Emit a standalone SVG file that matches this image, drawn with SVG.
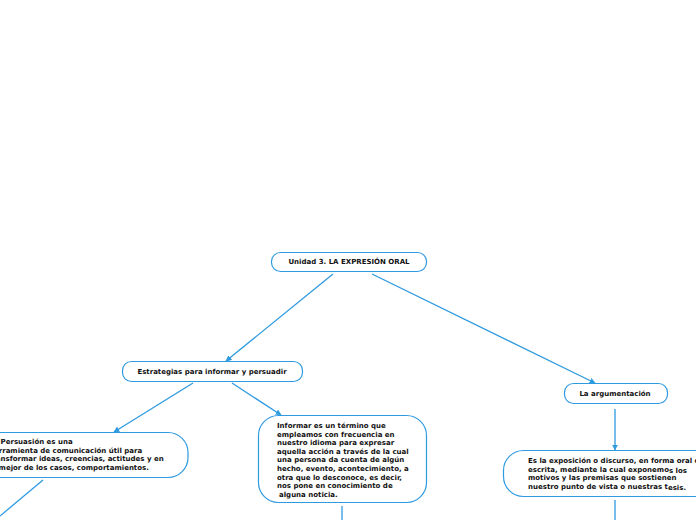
<svg xmlns="http://www.w3.org/2000/svg" width="696" height="520" viewBox="0 0 696 520">
<style>
.n{fill:#fff;stroke:#2e9ae0;stroke-width:1.2}
.t{font-family:"DejaVu Sans",Verdana,sans-serif;font-weight:bold;font-size:7px;fill:#111}
.c{fill:none;stroke:#2e9ae0;stroke-width:1.3}
</style>
<defs>
<marker id="a" viewBox="0 0 10 10" refX="9" refY="5" markerWidth="6" markerHeight="6" orient="auto" markerUnits="userSpaceOnUse">
<path d="M0,0 L10,5 L0,10 z" fill="#2e9ae0"/>
</marker>
</defs>
<rect width="696" height="520" fill="#fff"/>
<g id="connectors">
<path class="c" d="M333,274 L226,361" marker-end="url(#a)"/>
<path class="c" d="M372,274 L595,383" marker-end="url(#a)"/>
<path class="c" d="M193,383 L114,432" marker-end="url(#a)"/>
<path class="c" d="M232,383 L281,415" marker-end="url(#a)"/>
<path class="c" d="M615,409 L615,450" marker-end="url(#a)"/>
<path class="c" d="M43,480 L0,516"/>
<path class="c" d="M342,506 L342,520"/>
<path class="c" d="M615,500 L615,520"/>
</g>
<g id="root">
<rect class="n" x="271.5" y="252.5" width="155" height="19" rx="9"/>
<text class="t" x="349" y="264" text-anchor="middle">Unidad 3. LA EXPRESIÓN ORAL</text>
</g>
<g id="estrategias">
<rect class="n" x="122.5" y="361.5" width="180" height="20" rx="9"/>
<text class="t" x="212" y="374" text-anchor="middle">Estrategias para informar y persuadir</text>
</g>
<g id="argumentacion">
<rect class="n" x="564.5" y="383.5" width="103" height="20" rx="9"/>
<text class="t" x="615" y="396" text-anchor="middle">La argumentación</text>
</g>
<g id="persuasion">
<rect class="n" x="-30" y="432.5" width="218" height="45" rx="20"/>
<text class="t" x="-11" y="444">La Persuasión es una</text>
<text class="t" x="-11" y="452.5">herramienta de comunicación útil para</text>
<text class="t" x="-11" y="461">transformar ideas, creencias, actitudes y en</text>
<text class="t" x="-11" y="469.5">el mejor de los casos, comportamientos.</text>
</g>
<g id="informar">
<rect class="n" x="258.5" y="415.5" width="168" height="87" rx="20"/>
<text class="t" x="277" y="428">Informar es un término que</text>
<text class="t" x="277" y="436.6">empleamos con frecuencia en</text>
<text class="t" x="277" y="445.2">nuestro idioma para expresar</text>
<text class="t" x="277" y="453.8">aquella acción a través de la cual</text>
<text class="t" x="277" y="462.4">una persona da cuenta de algún</text>
<text class="t" x="277" y="471">hecho, evento, acontecimiento, a</text>
<text class="t" x="277" y="479.6">otra que lo desconoce, es decir,</text>
<text class="t" x="277" y="488.2">nos pone en conocimiento de</text>
<text class="t" x="277" y="496.8"> <tspan x="279">alguna noticia.</tspan></text>
</g>
<g id="argumentacion-desc">
<rect class="n" x="503.5" y="450.5" width="220" height="46" rx="20"/>
<text class="t" x="528" y="463">Es la exposición o discurso, en forma oral o</text>
<text class="t" x="528" y="471.5">escrita, mediante la cual exponemo<tspan dy="1.5">s los</tspan></text>
<text class="t" x="528" y="480">motivos y las premisas que sostienen</text>
<text class="t" x="528" y="488.5">nuestro punto de vista o nuestras t<tspan dy="1">esis.</tspan></text>
</g>
</svg>
